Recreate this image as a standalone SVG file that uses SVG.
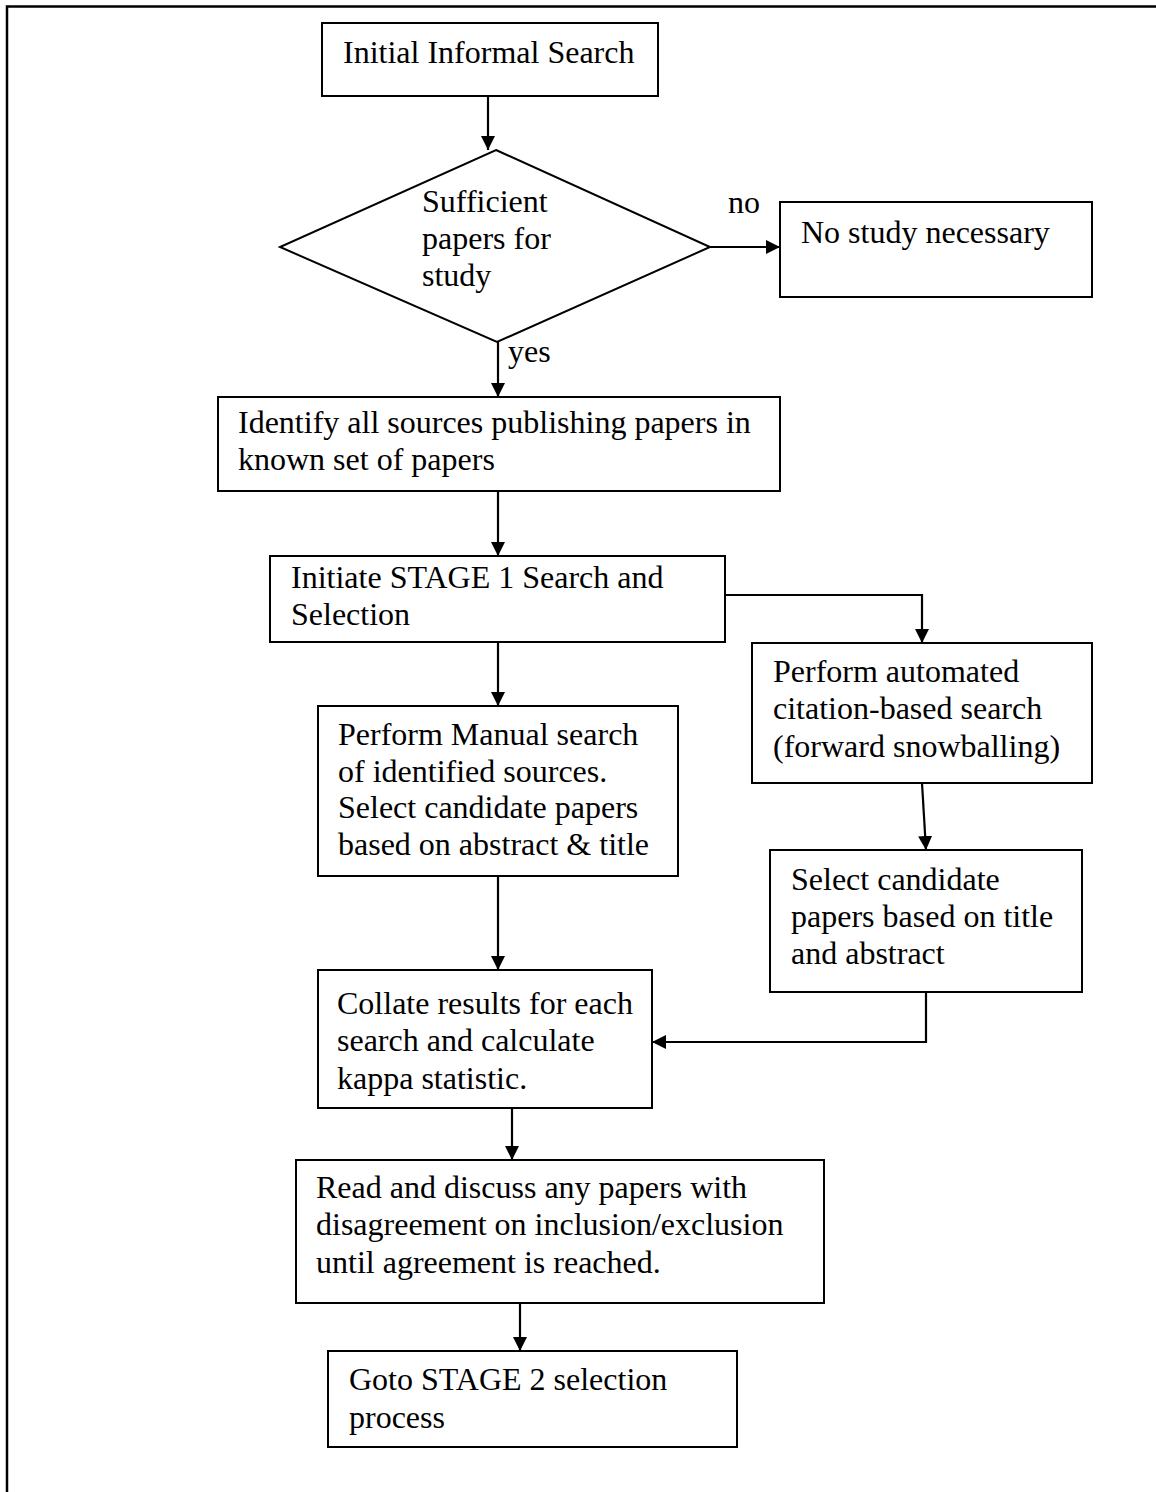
<svg xmlns="http://www.w3.org/2000/svg" width="1156" height="1492" viewBox="0 0 1156 1492">
<style>
.box{fill:#fff;stroke:#000;stroke-width:2}
.t{font-family:"Liberation Serif","Times New Roman",serif;font-size:32px;fill:#000}
.c{fill:none;stroke:#000;stroke-width:2.2}
.frame{fill:none;stroke:#000;stroke-width:2.5}
</style>
<defs>
<marker id="ah" viewBox="0 0 14 14" refX="14" refY="7" markerWidth="14" markerHeight="14" markerUnits="userSpaceOnUse" orient="auto">
<path d="M0,0 L14,7 L0,14 z" fill="#000"/>
</marker>
</defs>
<rect width="1156" height="1492" fill="#fff"/>
<path class="frame" d="M7,1500 V6.5 H1170"/>
<g id="connectors">
<path class="c" d="M488,96 V150" marker-end="url(#ah)"/>
<path class="c" d="M710,247 H780" marker-end="url(#ah)"/>
<path class="c" d="M498,342 V397" marker-end="url(#ah)"/>
<path class="c" d="M498,491 V556" marker-end="url(#ah)"/>
<path class="c" d="M498,641 V706" marker-end="url(#ah)"/>
<path class="c" d="M725,595 H922 V643" marker-end="url(#ah)"/>
<path class="c" d="M922,783 L926,850" marker-end="url(#ah)"/>
<path class="c" d="M498,876 V970" marker-end="url(#ah)"/>
<path class="c" d="M926,992 V1042 H652" marker-end="url(#ah)"/>
<path class="c" d="M512,1108 V1160" marker-end="url(#ah)"/>
<path class="c" d="M520,1303 V1351" marker-end="url(#ah)"/>
<text class="t" x="728" y="213">no</text>
<text class="t" x="508" y="362">yes</text>
</g>
<g id="n1"><rect class="box" x="322" y="23" width="336" height="73"/><text class="t" x="343" y="63">Initial Informal Search</text></g>
<g id="n2"><polygon class="box" points="496,150 710,247 497,342 280,247"/>
<text class="t" x="422" y="212">Sufficient</text><text class="t" x="422" y="249">papers for</text><text class="t" x="422" y="286">study</text></g>
<g id="n3"><rect class="box" x="780" y="202" width="312" height="95"/><text class="t" x="801" y="243">No study necessary</text></g>
<g id="n4"><rect class="box" x="218" y="397" width="562" height="94"/><text class="t" x="238" y="433">Identify all sources publishing papers in</text><text class="t" x="238" y="470">known set of papers</text></g>
<g id="n5"><rect class="box" x="270" y="556" width="455" height="86"/><text class="t" x="291" y="588">Initiate STAGE 1 Search and</text><text class="t" x="291" y="625">Selection</text></g>
<g id="n6"><rect class="box" x="318" y="706" width="360" height="170"/><text class="t" x="338" y="745">Perform Manual search</text><text class="t" x="338" y="782">of identified sources.</text><text class="t" x="338" y="818">Select candidate papers</text><text class="t" x="338" y="855">based on abstract &amp; title</text></g>
<g id="n7"><rect class="box" x="752" y="643" width="340" height="140"/><text class="t" x="773" y="682">Perform automated</text><text class="t" x="773" y="719">citation-based search</text><text class="t" x="773" y="757">(forward snowballing)</text></g>
<g id="n8"><rect class="box" x="770" y="850" width="312" height="142"/><text class="t" x="791" y="890">Select candidate</text><text class="t" x="791" y="927">papers based on title</text><text class="t" x="791" y="964">and abstract</text></g>
<g id="n9"><rect class="box" x="318" y="970" width="334" height="138"/><text class="t" x="337" y="1014">Collate results for each</text><text class="t" x="337" y="1051">search and calculate</text><text class="t" x="337" y="1089">kappa statistic.</text></g>
<g id="n10"><rect class="box" x="296" y="1160" width="528" height="143"/><text class="t" x="316" y="1198">Read and discuss any papers with</text><text class="t" x="316" y="1235">disagreement on inclusion/exclusion</text><text class="t" x="316" y="1273">until agreement is reached.</text></g>
<g id="n11"><rect class="box" x="328" y="1351" width="409" height="96"/><text class="t" x="349" y="1390">Goto STAGE 2 selection</text><text class="t" x="349" y="1428">process</text></g>
</svg>
